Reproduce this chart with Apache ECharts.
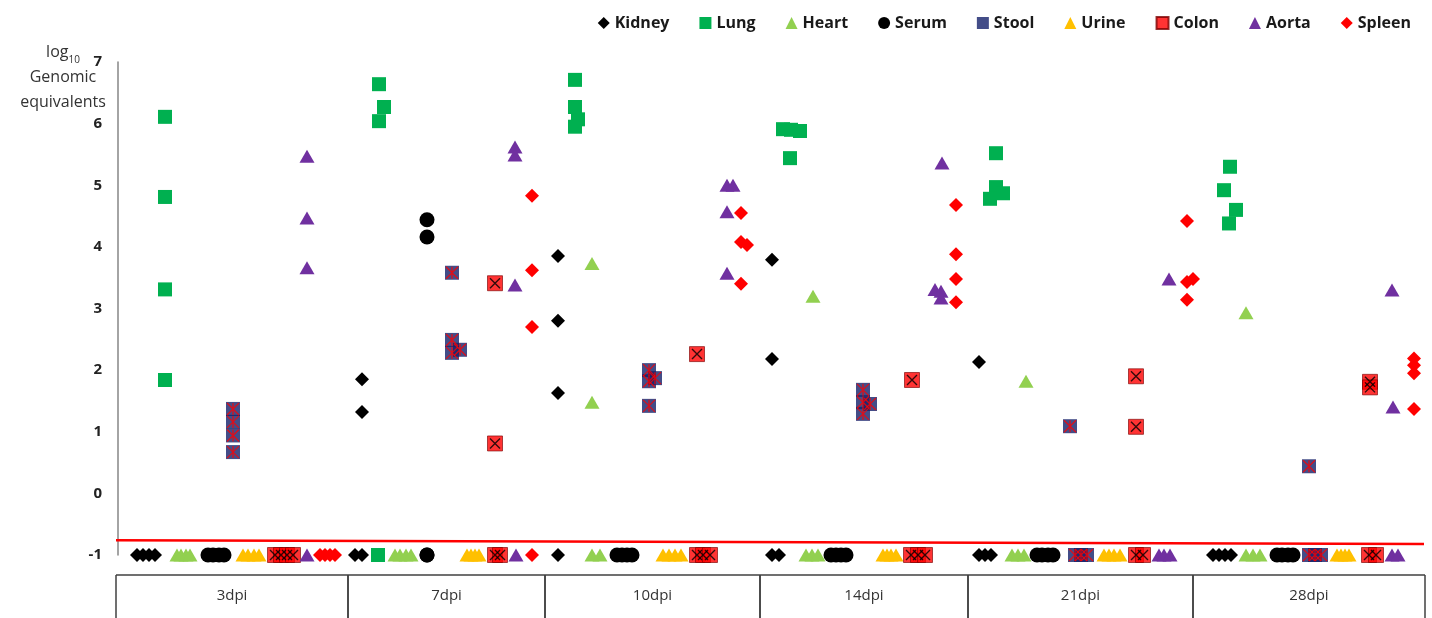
<!DOCTYPE html>
<html>
<head>
<meta charset="utf-8">
<script src="https://cdn.jsdelivr.net/npm/echarts@6/dist/echarts.min.js"></script>
<style>
  html, body { margin: 0; padding: 0; background: #fff; }
  #chart { width: 1432px; height: 618px; }
</style>
</head>
<body>
<div id="chart"></div>
<script>
// time points along the bottom (x edges in axis units)
var groupLabels = ['3dpi', '7dpi', '10dpi', '14dpi', '21dpi', '28dpi'];
var groupEdges = [11.6, 34.8, 54.5, 76.0, 96.8, 119.3, 142.5];

var tissues = ['Kidney', 'Lung', 'Heart', 'Serum', 'Stool', 'Urine', 'Colon', 'Aorta', 'Spleen'];

// [x, log10 GE] per animal, -1 = not detected
var kidney = [
  [13.7, -1], [14.3, -1], [14.9, -1], [15.5, -1],
  [36.2, 1.85], [36.2, 1.32], [35.5, -1], [36.2, -1],
  [55.8, 3.85], [55.8, 2.80], [55.8, 1.63], [55.8, -1],
  [77.2, 3.79], [77.2, 2.18], [77.2, -1], [77.9, -1],
  [97.9, 2.13], [97.9, -1], [98.5, -1], [99.1, -1],
  [121.3, -1], [121.9, -1], [122.5, -1], [123.1, -1]
];
var lung = [
  [16.5, 6.11], [16.5, 4.81], [16.5, 3.31], [16.5, 1.84],
  [37.9, 6.64], [38.4, 6.27], [37.9, 6.04], [37.8, -1],
  [57.5, 6.71], [57.5, 6.27], [57.8, 6.07], [57.5, 5.95],
  [78.3, 5.91], [79.1, 5.90], [80.0, 5.88], [79.0, 5.44],
  [99.6, 5.52], [99.6, 4.97], [100.3, 4.87], [99.0, 4.78],
  [123.0, 5.30], [122.4, 4.92], [123.6, 4.60], [122.9, 4.38]
];
var heart = [
  [17.7, -1], [18.1, -1], [18.6, -1], [19.0, -1],
  [39.5, -1], [40.0, -1], [40.6, -1], [41.1, -1],
  [59.2, 3.73], [59.2, 1.48], [59.2, -1], [60.0, -1],
  [81.3, 3.20], [80.6, -1], [81.2, -1], [81.8, -1],
  [102.6, 1.82], [101.2, -1], [101.8, -1], [102.4, -1],
  [124.6, 2.93], [124.6, -1], [125.3, -1], [126.0, -1]
];
var serum = [
  [20.8, -1], [21.3, -1], [21.9, -1], [22.4, -1],
  [42.7, 4.44], [42.7, 4.16], [42.7, -1], [42.7, -1],
  [61.7, -1], [62.2, -1], [62.7, -1], [63.2, -1],
  [83.1, -1], [83.6, -1], [84.1, -1], [84.6, -1],
  [103.7, -1], [104.2, -1], [104.8, -1], [105.3, -1],
  [127.7, -1], [128.2, -1], [128.8, -1], [129.3, -1]
];
var stool = [
  [23.3, 1.37], [23.3, 1.16], [23.3, 0.94], [23.3, 0.67],
  [45.2, 3.58], [45.2, 2.49], [46.0, 2.33], [45.2, 2.28],
  [64.9, 2.00], [65.5, 1.87], [64.9, 1.82], [64.9, 1.42],
  [86.3, 1.68], [86.3, 1.48], [87.0, 1.45], [86.3, 1.29],
  [107.0, 1.09], [107.5, -1], [108.1, -1], [108.7, -1],
  [130.9, 0.44], [130.9, -1], [131.5, -1], [132.1, -1]
];
var urine = [
  [24.3, -1], [24.8, -1], [25.4, -1], [25.9, -1],
  [46.7, -1], [47.1, -1], [47.5, -1], [47.9, -1],
  [66.3, -1], [66.9, -1], [67.5, -1], [68.1, -1],
  [88.3, -1], [88.7, -1], [89.1, -1], [89.6, -1],
  [110.4, -1], [110.9, -1], [111.4, -1], [112.0, -1],
  [133.7, -1], [134.1, -1], [134.5, -1], [134.9, -1]
];
var colon = [
  [27.5, -1], [28.1, -1], [28.7, -1], [29.3, -1],
  [49.5, 3.41], [49.5, 0.81], [49.5, -1], [50.0, -1],
  [69.7, 2.26], [69.7, -1], [70.3, -1], [71.0, -1],
  [91.2, 1.84], [91.1, -1], [91.8, -1], [92.5, -1],
  [113.6, 1.90], [113.6, 1.08], [113.6, -1], [114.3, -1],
  [137.0, 1.81], [137.0, 1.72], [136.9, -1], [137.6, -1]
];
var aorta = [
  [30.7, 5.47], [30.7, 4.47], [30.7, 3.66], [30.7, -1],
  [51.5, 5.62], [51.5, 5.49], [51.5, 3.38], [51.6, -1],
  [72.7, 5.00], [73.3, 5.00], [72.7, 4.57], [72.7, 3.57],
  [94.2, 5.36], [93.5, 3.31], [94.1, 3.28], [94.1, 3.17],
  [116.9, 3.48], [115.9, -1], [116.4, -1], [117.0, -1],
  [139.2, 3.30], [139.3, 1.40], [139.2, -1], [139.8, -1]
];
var spleen = [
  [32.0, -1], [32.5, -1], [33.0, -1], [33.5, -1],
  [53.2, 4.83], [53.2, 3.62], [53.2, 2.70], [53.2, -1],
  [74.1, 4.55], [74.1, 4.08], [74.7, 4.03], [74.1, 3.40],
  [95.6, 4.68], [95.6, 3.88], [95.6, 3.48], [95.6, 3.10],
  [118.7, 4.42], [118.7, 3.43], [119.3, 3.48], [118.7, 3.14],
  [141.4, 2.19], [141.4, 2.08], [141.4, 1.95], [141.4, 1.37]
];
// detection limit line
var lodLine = [[11.6, -0.76], [142.4, -0.82]];

var crossMark = 'path://M0,0L10,10M10,0L0,10';
var starMark = 'path://M0,0L10,10M10,0L0,10M5,0L5,10';

function dots(name, data, symbol, size, color, extra) {
  var s = {
    name: name,
    type: 'scatter',
    data: data,
    symbol: symbol,
    symbolSize: size,
    itemStyle: { color: color, opacity: 1 },
    emphasis: { disabled: true }
  };
  return Object.assign(s, extra || {});
}

var chart = echarts.init(document.getElementById('chart'));

var option = {
  animation: false,
  backgroundColor: '#fff',
  title: {
    text: '{a|log}{b|10}\n{c|Genomic}\n{c|equivalents}',
    left: 58,
    top: 35,
    textAlign: 'center',
    textStyle: {
      fontWeight: 'normal',
      rich: {
        a: { fontSize: 16, fontFamily: 'Open Sans', fontWeight: 'normal', color: '#333', lineHeight: 25 },
        b: { fontSize: 10, fontFamily: 'Open Sans', fontWeight: 'normal', color: '#333', verticalAlign: 'bottom', padding: [7, 0, 0, 0] },
        c: { fontSize: 16, fontFamily: 'Open Sans', fontWeight: 'normal', color: '#333', lineHeight: 25 }
      }
    }
  },
  legend: {
    data: tissues,
    right: 16,
    top: 10,
    itemWidth: 12,
    itemHeight: 12,
    itemGap: 30,
    textStyle: { fontSize: 16, fontWeight: 'bold', fontFamily: 'Open Sans', color: '#1a1a1a' }
  },
  grid: { left: 118, right: 7, top: 62, bottom: 63 },
  xAxis: {
    type: 'value',
    min: 11.8,
    max: 142.5,
    show: false
  },
  yAxis: {
    type: 'value',
    min: -1,
    max: 7,
    interval: 1,
    axisLine: { show: true, lineStyle: { color: '#868686', width: 1.5 } },
    axisTick: { show: false },
    splitLine: { show: false },
    axisLabel: { fontSize: 15, fontWeight: 'bold', fontFamily: 'Open Sans', color: '#222', margin: 16 }
  },
  series: [
    {
      name: 'table',
      type: 'custom',
      clip: false,
      silent: true,
      data: groupLabels.map(function (g, i) { return [groupEdges[i], groupEdges[i + 1]]; }),
      encode: { x: [0, 1], y: -1 },
      renderItem: function (params, api) {
        var p0 = api.coord([api.value(0), -1]);
        var p1 = api.coord([api.value(1), -1]);
        var top = p0[1] + 20;
        var ls = { stroke: '#404040', lineWidth: 1.5 };
        return {
          type: 'group',
          children: [
            { type: 'line', shape: { x1: p0[0], y1: top, x2: p1[0], y2: top }, style: ls },
            { type: 'line', shape: { x1: p0[0], y1: top, x2: p0[0], y2: top + 60 }, style: ls },
            { type: 'line', shape: { x1: p1[0], y1: top, x2: p1[0], y2: top + 60 }, style: ls },
            {
              type: 'text',
              style: {
                text: groupLabels[params.dataIndex],
                x: (p0[0] + p1[0]) / 2,
                y: top + 21,
                align: 'center',
                verticalAlign: 'middle',
                fontSize: 15,
                fontFamily: 'Open Sans',
                fill: '#333'
              }
            }
          ]
        };
      }
    },
    {
      name: 'LOD',
      type: 'line',
      data: lodLine,
      symbol: 'none',
      silent: true,
      lineStyle: { color: '#FF0000', width: 2.5 }
    },
    dots('Kidney', kidney, 'diamond', 14, '#000'),
    dots('Lung', lung, 'rect', 14, '#00B050'),
    dots('Heart', heart, 'triangle', [15, 13], '#92D050'),
    dots('Serum', serum, 'circle', 15, '#000'),
    dots('Stool', stool, 'rect', 14, '#14206A', { itemStyle: { color: '#14206A', borderWidth: 0 } }),
    dots('Stool', stool, starMark, 12, 'none', { itemStyle: { color: 'none', borderColor: '#FF0000', borderWidth: 1.3 } }),
    dots('Urine', urine, 'triangle', [15, 13], '#FFC000'),
    dots('Colon', colon, 'rect', 15, '#FF0000', { itemStyle: { color: '#FF0000', borderColor: '#7a0000', borderWidth: 0.8 } }),
    dots('Colon', colon, crossMark, 10, 'none', { itemStyle: { color: 'none', borderColor: '#000', borderWidth: 1.4 } }),
    dots('Aorta', aorta, 'triangle', [15, 13], '#7030A0'),
    dots('Spleen', spleen, 'diamond', 14, '#FF0000')
  ]
};

chart.setOption(option);
</script>
</body>
</html>
